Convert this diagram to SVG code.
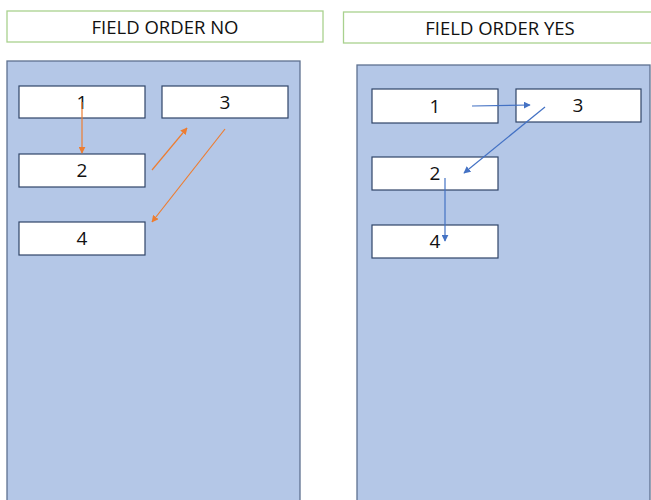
<svg xmlns="http://www.w3.org/2000/svg" width="651" height="500" viewBox="0 0 651 500">
<style>
.title{fill:#fff;stroke:#a9d18e;stroke-width:1.3}
.panel{fill:#b4c7e7;stroke:#5e7190;stroke-width:1.3}
.box{fill:#fff;stroke:#2f4468;stroke-width:1.2}
text{font-family:"Open Sans","Liberation Sans",sans-serif;fill:#111;text-anchor:middle;dominant-baseline:central}
.t{font-size:18.5px}
.n{font-size:19px}
.o{stroke:#ed7d31;stroke-width:1.2;fill:none}
.b{stroke:#4472c4;stroke-width:1.2;fill:none}
</style>
<defs>
<marker id="ao" viewBox="0 0 10 10" refX="9" refY="5" markerWidth="7" markerHeight="7" orient="auto" markerUnits="userSpaceOnUse"><path d="M0,0 L10,5 L0,10 z" fill="#ed7d31"/></marker>
<marker id="ab" viewBox="0 0 10 10" refX="9" refY="5" markerWidth="7" markerHeight="7" orient="auto" markerUnits="userSpaceOnUse"><path d="M0,0 L10,5 L0,10 z" fill="#4472c4"/></marker>
</defs>
<rect width="651" height="500" fill="#fff"/>
<g id="title-no"><rect class="title" x="7" y="11" width="316" height="31"/><text class="t" x="165" y="26">FIELD ORDER NO</text></g>
<g id="title-yes"><rect class="title" x="343.5" y="12" width="312" height="31"/><text class="t" x="500" y="27">FIELD ORDER YES</text></g>
<g id="panel-no"><rect class="panel" x="7" y="61" width="293" height="445"/></g>
<g id="panel-yes"><rect class="panel" x="357" y="65" width="293" height="445"/></g>
<g id="no-1"><rect class="box" x="19" y="86" width="126" height="32"/><text class="n" x="82" y="102">1</text></g>
<g id="no-3"><rect class="box" x="162" y="86" width="126" height="32"/><text class="n" x="225" y="102">3</text></g>
<g id="no-2"><rect class="box" x="19" y="154" width="126" height="33"/><text class="n" x="82" y="170">2</text></g>
<g id="no-4"><rect class="box" x="19" y="222" width="126" height="33"/><text class="n" x="82" y="238">4</text></g>
<g id="yes-1"><rect class="box" x="372" y="89" width="126" height="34"/><text class="n" x="435" y="106">1</text></g>
<g id="yes-3"><rect class="box" x="516" y="89" width="125" height="33"/><text class="n" x="578" y="105">3</text></g>
<g id="yes-2"><rect class="box" x="372" y="157" width="126" height="33"/><text class="n" x="435" y="173">2</text></g>
<g id="yes-4"><rect class="box" x="372" y="225" width="126" height="33"/><text class="n" x="435" y="241">4</text></g>
<g id="connectors">
<line class="o" x1="82" y1="102" x2="82" y2="153" marker-end="url(#ao)"/>
<line class="o" x1="152" y1="170" x2="187" y2="128" marker-end="url(#ao)"/>
<line class="o" x1="225" y1="129" x2="152" y2="222" marker-end="url(#ao)"/>
<line class="b" x1="472" y1="106" x2="530" y2="105" marker-end="url(#ab)"/>
<line class="b" x1="545" y1="107" x2="464" y2="173" marker-end="url(#ab)"/>
<line class="b" x1="445" y1="178" x2="445" y2="241" marker-end="url(#ab)"/>
</g>
</svg>
